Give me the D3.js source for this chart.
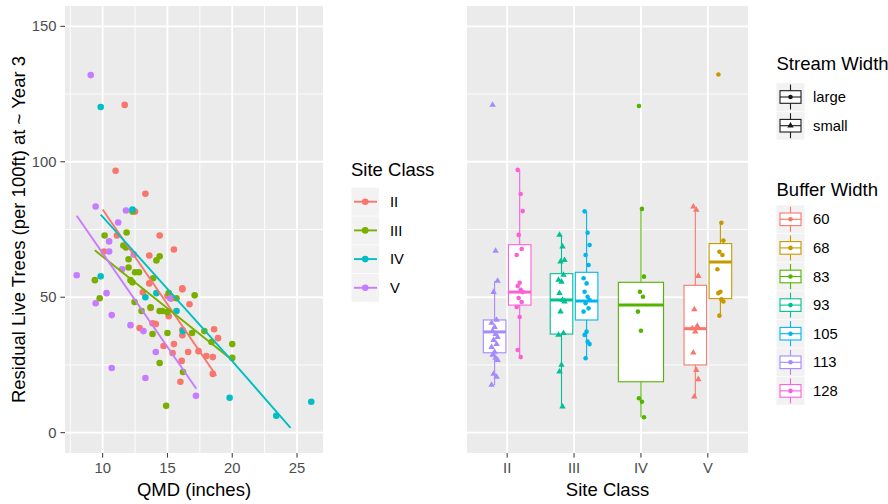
<!DOCTYPE html>
<html>
<head>
<meta charset="utf-8">
<script src="https://cdn.jsdelivr.net/npm/d3@7"></script>
<style>
body { margin: 0; background: #fff; }
text { font-family: "Liberation Sans", Arial, sans-serif; }
</style>
</head>
<body>
<div id="chart"></div>
<script>
// ---- left panel: QMD vs residual trees, by site class ----
const siteClasses = ["II", "III", "IV", "V"];
const siteColors = ["#F8766D", "#7CAE00", "#00BFC4", "#C77CFF"];

const ptsII = [[11.7,121.0],[11.0,96.7],[13.3,88.2],[12.5,81.6],[11.1,72.8],[14.4,72.8],[15.5,67.6],[10.1,66.9],
  [13.6,65.4],[13.6,55.1],[16.15,53.3],[13.1,51.8],[15.0,50.5],[15.3,49.5],[16.7,47.4],[13.7,46.0],[15.1,43.0],
  [12.85,38.6],[13.85,40.4],[14.1,40.1],[16.15,37.9],[18.6,38.2],[18.9,34.9],[14.7,32.0],[15.5,32.7],[15.4,29.4],
  [16.6,29.8],[17.4,30.1],[18.0,28.3],[18.5,27.9],[16.1,26.5],[18.5,21.7],[16.0,18.8],[16.15,36.0],[16.15,52.9]];
const ptsIII = [[12.3,81.6],[10.15,72.8],[11.85,73.9],[11.6,69.1],[11.8,68.4],[14.4,65.1],[14.15,63.6],[12.0,64.0],
  [12.0,61.0],[12.5,59.2],[12.8,59.2],[9.4,56.3],[12.15,56.3],[12.3,55.5],[13.9,57.0],[9.77,49.6],[12.46,48.2],
  [15.1,51.5],[15.7,49.6],[17.1,50.7],[13.0,44.9],[13.7,46.3],[14.4,44.9],[14.6,44.9],[15.0,44.5],[13.85,36.4],
  [15.0,36.8],[17.85,37.5],[16.9,36.8],[18.4,33.5],[20.0,32.7],[20.0,27.6],[14.4,25.7],[16.2,22.4],[14.9,9.9]];
const ptsIV = [[9.85,120.2],[12.3,82.4],[9.85,57.7],[13.3,50.0],[14.15,51.5],[15.7,44.9],[16.2,37.5],[19.8,12.9],
  [23.4,6.25],[26.1,11.4]];
const ptsV = [[9.08,132.0],[9.46,83.5],[11.8,82.0],[11.2,77.6],[10.5,70.6],[10.5,66.9],[12.4,65.8],[11.5,60.3],
  [8.0,58.1],[10.3,51.5],[9.46,47.8],[15.2,49.6],[10.7,43.4],[12.15,39.7],[13.15,37.5],[14.1,29.8],[10.7,23.9],
  [13.3,20.2],[17.2,13.6]];

const lineII = [[10.0,82.4],[18.77,21.0]];
const lineIII = [[9.4,67.3],[19.9,27.2]];
const lineIV = [[9.85,80.5],[19.9,27.0],[24.5,1.8]];
const lineV = [[8.0,80.1],[17.23,16.2]];

const xTicksL = [10, 15, 20, 25];
const yTicks = [0, 50, 100, 150];

// ---- right panel: boxplots by buffer width ----
const bufferWidths = ["60", "68", "83", "93", "105", "113", "128"];
const bufferColors = ["#F8766D", "#C49A00", "#53B400", "#00C094", "#00B6EB", "#A58AFF", "#FB61D7"];
const bufferSite = ["V", "V", "IV", "III", "III", "II", "II"];
const bufferStream = ["small", "large", "large", "small", "large", "small", "large"];
const boxLow  = [13.3, 43.2, 5.7, 9.6, 27.5, 17.6, 28.0];
const boxQ1   = [25.0, 49.5, 18.8, 36.4, 41.6, 29.5, 47.1];
const boxMed  = [38.4, 63.0, 47.1, 49.0, 48.6, 37.2, 51.9];
const boxQ3   = [54.4, 69.8, 55.5, 58.7, 59.2, 41.6, 69.4];
const boxHigh = [82.8, 77.5, 82.6, 73.0, 81.7, 56.0, 97.0];

const pts60  = [83.4,82.2,57.8,45.5,39.4,38.5,37.3,29.5,23.1,19.7,13.3];
const pts68  = [132.2,77.5,70.9,66.8,65.6,60.3,52.0,51.5,49.2,48.4,43.2];
const pts83  = [120.6,82.6,57.6,52.0,50.2,44.7,37.6,12.7,11.4,5.7];
const pts93  = [73.0,68.7,63.7,63.1,58.2,56.4,55.7,51.5,49.0,48.4,44.7,36.7,36.1,25.0,22.5,9.6];
const pts105 = [81.7,73.8,69.3,65.6,61.9,57.0,55.1,52.0,50.2,49.0,47.8,45.9,44.7,37.3,36.1,33.6,32.7,27.5];
const pts113 = [121.0,67.1,56.0,51.9,41.6,40.5,39.0,37.5,36.4,35.3,34.2,32.7,31.6,29.8,28.7,27.6,26.8,21.7,20.6,17.6];
const pts128 = [97.0,88.1,81.8,73.0,67.8,65.6,55.3,54.1,52.7,51.9,49.7,48.2,46.4,42.7,30.5,27.9];
const bufferPts = [pts60, pts68, pts83, pts93, pts105, pts113, pts128];

const streamWidths = ["large", "small"];

// ---- drawing ----
const W = 888, H = 504;
const PANEL_BG = "#EBEBEB", GRID = "#FFFFFF", TICK_TXT = "#4D4D4D";
const svg = d3.select("#chart").append("svg").attr("width", W).attr("height", H);

const y = d3.scaleLinear().domain([-7.5, 157.5]).range([453, 6]);
const xL = d3.scaleLinear().domain([7.095, 27.005]).range([65, 323]);
const xR = d3.scalePoint().domain(siteClasses).range([467, 748]).padding(0.6);

const triangle = d3.symbol().type(d3.symbolTriangle);

function panel(x0, x1) {
  svg.append("rect").attr("x", x0).attr("y", 6).attr("width", x1 - x0).attr("height", 447).attr("fill", PANEL_BG);
  const minors = [25, 75, 125];
  svg.append("g").selectAll("line").data(minors).enter().append("line")
    .attr("x1", x0).attr("x2", x1).attr("y1", d => y(d)).attr("y2", d => y(d))
    .attr("stroke", GRID).attr("stroke-width", 0.9);
  svg.append("g").selectAll("line").data(yTicks).enter().append("line")
    .attr("x1", x0).attr("x2", x1).attr("y1", d => y(d)).attr("y2", d => y(d))
    .attr("stroke", GRID).attr("stroke-width", 1.8);
}

// left panel
panel(65, 323);
const minorXL = [7.5, 12.5, 17.5, 22.5];
svg.append("g").selectAll("line").data(minorXL).enter().append("line")
  .attr("x1", d => xL(d)).attr("x2", d => xL(d)).attr("y1", 6).attr("y2", 453)
  .attr("stroke", GRID).attr("stroke-width", 0.9);
svg.append("g").selectAll("line").data(xTicksL).enter().append("line")
  .attr("x1", d => xL(d)).attr("x2", d => xL(d)).attr("y1", 6).attr("y2", 453)
  .attr("stroke", GRID).attr("stroke-width", 1.8);

const scatter = [ptsII, ptsIII, ptsIV, ptsV];
const lines = [lineII, lineIII, lineIV, lineV];
scatter.forEach((pts, i) => {
  svg.append("g").selectAll("circle").data(pts).enter().append("circle")
    .attr("cx", d => xL(d[0])).attr("cy", d => y(d[1])).attr("r", 3.3)
    .attr("fill", siteColors[i]);
});
const lineGen = d3.line().x(d => xL(d[0])).y(d => y(d[1]));
lines.forEach((l, i) => {
  svg.append("path").attr("d", lineGen(l)).attr("fill", "none")
    .attr("stroke", siteColors[i]).attr("stroke-width", 1.9);
});

// left axes
const yAx = svg.append("g");
yAx.selectAll("line").data(yTicks).enter().append("line")
  .attr("x1", 60.4).attr("x2", 65).attr("y1", d => y(d)).attr("y2", d => y(d))
  .attr("stroke", "#333").attr("stroke-width", 1);
yAx.selectAll("text").data(yTicks).enter().append("text")
  .attr("x", 56.5).attr("y", d => y(d)).attr("dy", "0.35em").attr("text-anchor", "end")
  .attr("font-size", "14.8px").attr("fill", TICK_TXT).text(d => d);

const xAx = svg.append("g");
xAx.selectAll("line").data(xTicksL).enter().append("line")
  .attr("x1", d => xL(d)).attr("x2", d => xL(d)).attr("y1", 453).attr("y2", 457.6)
  .attr("stroke", "#333").attr("stroke-width", 1);
xAx.selectAll("text").data(xTicksL).enter().append("text")
  .attr("x", d => xL(d)).attr("y", 473).attr("text-anchor", "middle")
  .attr("font-size", "14.8px").attr("fill", TICK_TXT).text(d => d);

svg.append("text").attr("x", 194).attr("y", 496).attr("text-anchor", "middle")
  .attr("font-size", "18.5px").attr("fill", "#000").text("QMD (inches)");
svg.append("text").attr("transform", "translate(25,229.5) rotate(-90)").attr("text-anchor", "middle")
  .attr("font-size", "18.5px").attr("fill", "#000").text("Residual Live Trees (per 100ft) at ~ Year 3");

// Site Class legend
const lg1 = svg.append("g");
lg1.append("text").attr("x", 351).attr("y", 176).attr("font-size", "18.5px").text("Site Class");
siteClasses.forEach((c, i) => {
  const top = 187.7 + i * 28.7, cy = top + 14;
  lg1.append("rect").attr("x", 351.5).attr("y", top).attr("width", 27.5).attr("height", 28).attr("fill", "#F2F2F2");
  lg1.append("line").attr("x1", 354).attr("x2", 377).attr("y1", cy).attr("y2", cy)
    .attr("stroke", siteColors[i]).attr("stroke-width", 1.9);
  lg1.append("circle").attr("cx", 365.2).attr("cy", cy).attr("r", 3.3).attr("fill", siteColors[i]);
  lg1.append("text").attr("x", 390).attr("y", cy).attr("dy", "0.35em").attr("font-size", "14.8px").text(c);
});

// right panel
panel(467, 748);
svg.append("g").selectAll("line").data(siteClasses).enter().append("line")
  .attr("x1", d => xR(d)).attr("x2", d => xR(d)).attr("y1", 6).attr("y2", 453)
  .attr("stroke", GRID).attr("stroke-width", 1.8);

const dodgeW = 0.75 * xR.step();
function boxCenter(i) {
  const grp = bufferWidths.map((b, k) => k).filter(k => bufferSite[k] === bufferSite[i]);
  const slot = dodgeW / grp.length;
  const j = grp.indexOf(i);
  return { cx: xR(bufferSite[i]) - dodgeW / 2 + slot * (j + 0.5), bw: slot * 0.9 };
}

const jit = [-2, 1, 3, -1, 2, -3, 0];
bufferWidths.forEach((b, i) => {
  const { cx, bw } = boxCenter(i);
  const col = bufferColors[i];
  const g = svg.append("g");
  g.append("line").attr("x1", cx).attr("x2", cx).attr("y1", y(boxHigh[i])).attr("y2", y(boxQ3[i]))
    .attr("stroke", col).attr("stroke-width", 1.1);
  g.append("line").attr("x1", cx).attr("x2", cx).attr("y1", y(boxQ1[i])).attr("y2", y(boxLow[i]))
    .attr("stroke", col).attr("stroke-width", 1.1);
  g.append("rect").attr("x", cx - bw / 2).attr("y", y(boxQ3[i])).attr("width", bw)
    .attr("height", y(boxQ1[i]) - y(boxQ3[i])).attr("fill", "#fff").attr("stroke", col).attr("stroke-width", 1.1);
  g.append("line").attr("x1", cx - bw / 2).attr("x2", cx + bw / 2).attr("y1", y(boxMed[i])).attr("y2", y(boxMed[i]))
    .attr("stroke", col).attr("stroke-width", 3);
  const pts = bufferPts[i];
  if (bufferStream[i] === "small") {
    g.selectAll("path.pt").data(pts).enter().append("path").attr("class", "pt")
      .attr("d", triangle.size(18))
      .attr("transform", (d, k) => `translate(${cx + jit[k % jit.length]},${y(d)})`)
      .attr("fill", col);
  } else {
    g.selectAll("circle").data(pts).enter().append("circle")
      .attr("cx", (d, k) => cx + jit[k % jit.length]).attr("cy", d => y(d)).attr("r", 2.3)
      .attr("fill", col);
  }
});

// right x axis
const xAxR = svg.append("g");
xAxR.selectAll("line").data(siteClasses).enter().append("line")
  .attr("x1", d => xR(d)).attr("x2", d => xR(d)).attr("y1", 453).attr("y2", 457.6)
  .attr("stroke", "#333").attr("stroke-width", 1);
xAxR.selectAll("text").data(siteClasses).enter().append("text")
  .attr("x", d => xR(d)).attr("y", 473).attr("text-anchor", "middle")
  .attr("font-size", "14.8px").attr("fill", TICK_TXT).text(d => d);
svg.append("text").attr("x", 607.5).attr("y", 496).attr("text-anchor", "middle")
  .attr("font-size", "18.5px").attr("fill", "#000").text("Site Class");

// box glyph for legends
function boxKey(g, cx, cy, col, shape) {
  g.append("rect").attr("x", cx - 14).attr("y", cy - 14).attr("width", 28).attr("height", 28).attr("fill", "#F2F2F2");
  g.append("line").attr("x1", cx).attr("x2", cx).attr("y1", cy - 12.5).attr("y2", cy + 12.5)
    .attr("stroke", col).attr("stroke-width", 1.1);
  g.append("rect").attr("x", cx - 10.5).attr("y", cy - 6.3).attr("width", 21).attr("height", 12.6)
    .attr("fill", "#fff").attr("stroke", col).attr("stroke-width", 1.1);
  g.append("line").attr("x1", cx - 10.5).attr("x2", cx + 10.5).attr("y1", cy).attr("y2", cy)
    .attr("stroke", col).attr("stroke-width", 1.1);
  if (shape === "small") {
    g.append("path").attr("d", triangle.size(18)).attr("transform", `translate(${cx},${cy})`).attr("fill", col);
  } else {
    g.append("circle").attr("cx", cx).attr("cy", cy).attr("r", 2.3).attr("fill", col);
  }
}

// Stream Width legend
const lg2 = svg.append("g");
lg2.append("text").attr("x", 776.5).attr("y", 69.5).attr("font-size", "18.5px").text("Stream Width");
streamWidths.forEach((s, i) => {
  const cy = 97 + i * 28.7;
  boxKey(lg2, 790.5, cy, "#1a1a1a", s);
  lg2.append("text").attr("x", 813).attr("y", cy).attr("dy", "0.35em").attr("font-size", "14.8px").text(s);
});

// Buffer Width legend
const lg3 = svg.append("g");
lg3.append("text").attr("x", 776.5).attr("y", 196).attr("font-size", "18.5px").text("Buffer Width");
bufferWidths.forEach((b, i) => {
  const cy = 219.3 + i * 28.6;
  boxKey(lg3, 790.5, cy, bufferColors[i], "large");
  lg3.append("text").attr("x", 813).attr("y", cy).attr("dy", "0.35em").attr("font-size", "14.8px").text(b);
});
</script>
</body>
</html>
